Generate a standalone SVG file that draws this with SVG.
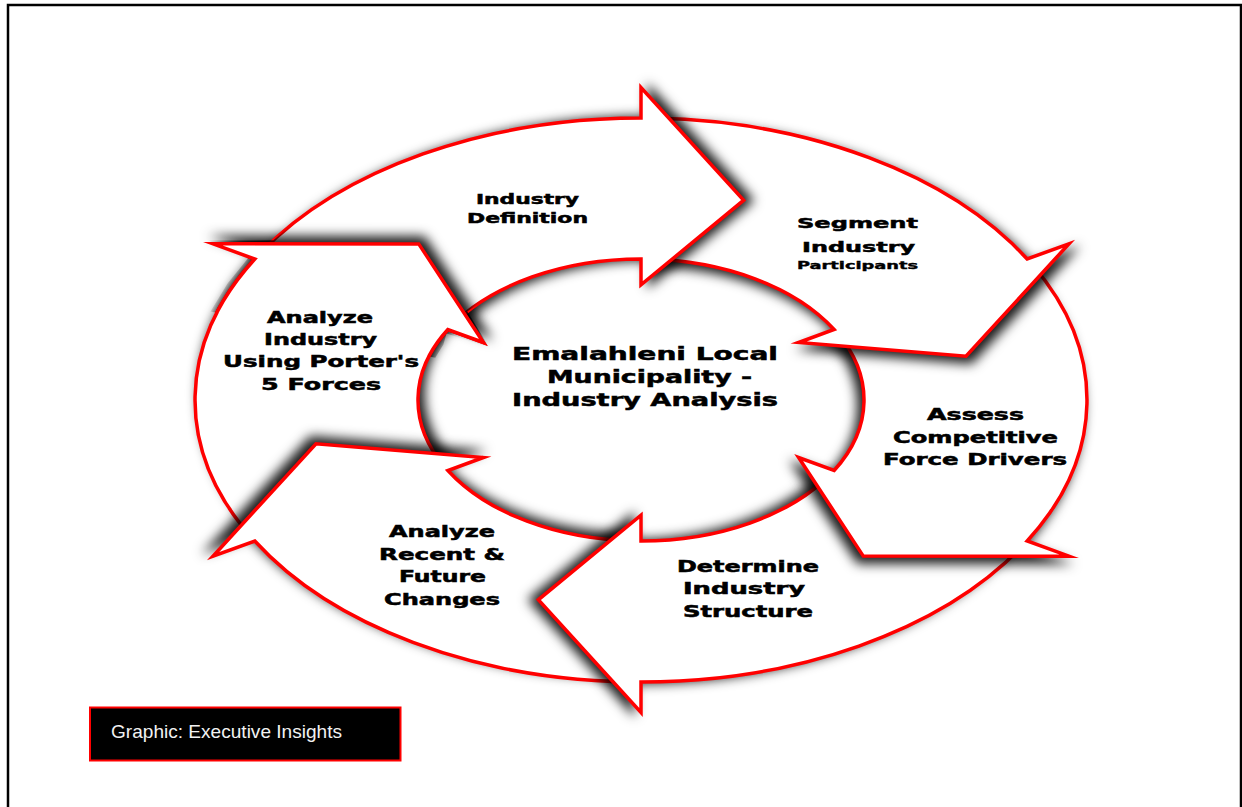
<svg xmlns="http://www.w3.org/2000/svg" xmlns:xlink="http://www.w3.org/1999/xlink" width="1242" height="807" viewBox="0 0 1242 807">
<style>
.arw{fill:#fff;stroke:#ff0000;stroke-width:3.5;stroke-linejoin:miter;stroke-miterlimit:10}
.lbl{font-family:"DejaVu Sans","Liberation Sans",sans-serif;font-weight:bold;fill:#000;stroke:#000;stroke-width:0.5}
.src{font-family:"Liberation Sans",Arial,sans-serif;font-size:19px;fill:#f2f2f2}
</style>
<defs>
<filter id="shT" x="-20%" y="-20%" width="140%" height="140%" color-interpolation-filters="sRGB"><feGaussianBlur in="SourceAlpha" stdDeviation="6"/><feOffset dx="8" dy="0" result="o"/><feFlood flood-color="#000" flood-opacity="0.9"/><feComposite in2="o" operator="in"/><feMerge><feMergeNode/><feMergeNode in="SourceGraphic"/></feMerge></filter>
<filter id="shS" x="-20%" y="-20%" width="140%" height="140%" color-interpolation-filters="sRGB"><feGaussianBlur in="SourceAlpha" stdDeviation="6"/><feOffset dx="5.4" dy="5.9" result="o"/><feFlood flood-color="#000" flood-opacity="0.9"/><feComposite in2="o" operator="in"/><feMerge><feMergeNode/><feMergeNode in="SourceGraphic"/></feMerge></filter>
<filter id="shA" x="-20%" y="-20%" width="140%" height="140%" color-interpolation-filters="sRGB"><feGaussianBlur in="SourceAlpha" stdDeviation="6"/><feOffset dx="-5.4" dy="5.9" result="o"/><feFlood flood-color="#000" flood-opacity="0.9"/><feComposite in2="o" operator="in"/><feMerge><feMergeNode/><feMergeNode in="SourceGraphic"/></feMerge></filter>
<filter id="shD" x="-20%" y="-20%" width="140%" height="140%" color-interpolation-filters="sRGB"><feGaussianBlur in="SourceAlpha" stdDeviation="6"/><feOffset dx="-8" dy="0" result="o"/><feFlood flood-color="#000" flood-opacity="0.9"/><feComposite in2="o" operator="in"/><feMerge><feMergeNode/><feMergeNode in="SourceGraphic"/></feMerge></filter>
<filter id="shR" x="-20%" y="-20%" width="140%" height="140%" color-interpolation-filters="sRGB"><feGaussianBlur in="SourceAlpha" stdDeviation="6"/><feOffset dx="-5.4" dy="-5.9" result="o"/><feFlood flood-color="#000" flood-opacity="0.9"/><feComposite in2="o" operator="in"/><feMerge><feMergeNode/><feMergeNode in="SourceGraphic"/></feMerge></filter>
<filter id="shP" x="-20%" y="-20%" width="140%" height="140%" color-interpolation-filters="sRGB"><feGaussianBlur in="SourceAlpha" stdDeviation="6"/><feOffset dx="5.4" dy="-5.9" result="o"/><feFlood flood-color="#000" flood-opacity="0.9"/><feComposite in2="o" operator="in"/><feMerge><feMergeNode/><feMergeNode in="SourceGraphic"/></feMerge></filter>
<path id="shapeTop" d="M260.7,252.7 A446,282 0 0 1 641,118 L641,87.5 L743.7,200.2 L641,284.9 L641,259 A223,141 0 0 0 450.9,326.3 Z"/>
<path id="shapeSeg" d="M652.7,118.1 A446,282 0 0 1 1027.2,259 L1069,243.8 L966,356.3 L798.6,342.5 L834.1,329.5 A223,141 0 0 0 646.8,259 Z"/>
<path id="shapeAss" d="M1032.9,265.4 A446,282 0 0 1 1027.2,541 L1069,556.2 L863.3,556.1 L798.6,457.5 L834.1,470.5 A223,141 0 0 0 837,332.7 Z"/>
<path id="shapeDet" d="M1021.3,547.3 A446,282 0 0 1 641,682 L641,712.5 L538.3,599.8 L641,515.1 L641,541 A223,141 0 0 0 831.1,473.7 Z"/>
<path id="shapeRec" d="M629.3,681.9 A446,282 0 0 1 254.8,541 L213,556.2 L316,443.7 L483.4,457.5 L447.9,470.5 A223,141 0 0 0 635.2,541 Z"/>
<path id="shapePor" d="M249.1,534.6 A446,282 0 0 1 254.8,259 L213,243.8 L418.7,243.9 L483.4,342.5 L447.9,329.5 A223,141 0 0 0 445,467.3 Z"/>
<clipPath id="clipPorHead">
<polygon points="210.5,311.6 227.5,283.6 249,256.9 208,240.5 423.5,240 489,347 446.5,333.5 443.4,344.4 435.3,357.7"/>
<use xlink:href="#shapeTop"/>
</clipPath>
</defs>
<rect x="0" y="0" width="1242" height="807" fill="#fff"/>
<rect x="8" y="5" width="1233" height="830" fill="none" stroke="#000" stroke-width="2.5"/>

<g id="node-porter">
<use xlink:href="#shapePor" class="arw" filter="url(#shP)"/>
</g>

<g id="node-recent">
<use xlink:href="#shapeRec" class="arw" filter="url(#shR)"/>
<text class="lbl" font-size="15" x="389" y="537" textLength="106" lengthAdjust="spacingAndGlyphs">Analyze</text>
<text class="lbl" font-size="15" x="379" y="560" textLength="126" lengthAdjust="spacingAndGlyphs">Recent &amp;</text>
<text class="lbl" font-size="15" x="399" y="582" textLength="87" lengthAdjust="spacingAndGlyphs">Future</text>
<text class="lbl" font-size="15" x="384" y="605" textLength="116" lengthAdjust="spacingAndGlyphs">Changes</text>
</g>

<g id="node-determine">
<use xlink:href="#shapeDet" class="arw" filter="url(#shD)"/>
<text class="lbl" font-size="15" x="677" y="572" textLength="142" lengthAdjust="spacingAndGlyphs">Determine</text>
<text class="lbl" font-size="15" x="683" y="594" textLength="122" lengthAdjust="spacingAndGlyphs">Industry</text>
<text class="lbl" font-size="15" x="683" y="617" textLength="130" lengthAdjust="spacingAndGlyphs">Structure</text>
</g>

<g id="node-assess">
<use xlink:href="#shapeAss" class="arw" filter="url(#shA)"/>
<text class="lbl" font-size="15" x="927" y="420" textLength="97" lengthAdjust="spacingAndGlyphs">Assess</text>
<text class="lbl" font-size="15" x="893" y="443" textLength="165" lengthAdjust="spacingAndGlyphs">Competitive</text>
<text class="lbl" font-size="15" x="883" y="465" textLength="184" lengthAdjust="spacingAndGlyphs">Force Drivers</text>
</g>

<g id="node-segment">
<use xlink:href="#shapeSeg" class="arw" filter="url(#shS)"/>
<text class="lbl" font-size="14.5" x="797" y="228" textLength="121" lengthAdjust="spacingAndGlyphs">Segment</text>
<text class="lbl" font-size="14.5" x="802" y="252" textLength="113" lengthAdjust="spacingAndGlyphs">Industry</text>
<text class="lbl" font-size="10" x="797" y="269" textLength="121" lengthAdjust="spacingAndGlyphs" style="stroke-width:0.35">Participants</text>
</g>

<g id="node-top">
<use xlink:href="#shapeTop" class="arw" filter="url(#shT)"/>
<text class="lbl" font-size="13.5" x="476" y="204" textLength="103" lengthAdjust="spacingAndGlyphs">Industry</text>
<text class="lbl" font-size="13.5" x="467" y="223" textLength="121" lengthAdjust="spacingAndGlyphs">Definition</text>
</g>

<g id="node-porter-head">
<g clip-path="url(#clipPorHead)">
<use xlink:href="#shapePor" class="arw" filter="url(#shP)"/>
</g>
<text class="lbl" font-size="15" x="267" y="323" textLength="106" lengthAdjust="spacingAndGlyphs">Analyze</text>
<text class="lbl" font-size="15" x="264" y="345" textLength="113" lengthAdjust="spacingAndGlyphs">Industry</text>
<text class="lbl" font-size="15" x="223" y="367" textLength="196" lengthAdjust="spacingAndGlyphs">Using Porter's</text>
<text class="lbl" font-size="15" x="261" y="390" textLength="120" lengthAdjust="spacingAndGlyphs">5 Forces</text>
</g>

<g id="node-center">
<text class="lbl" font-size="17.5" x="512" y="360" textLength="266" lengthAdjust="spacingAndGlyphs">Emalahleni Local</text>
<text class="lbl" font-size="17.5" x="547" y="383" textLength="205" lengthAdjust="spacingAndGlyphs">Municipality -</text>
<text class="lbl" font-size="17.5" x="512" y="406" textLength="266" lengthAdjust="spacingAndGlyphs">Industry Analysis</text>
</g>

<g id="node-source">
<rect x="90" y="707.5" width="310.5" height="53" fill="#000" stroke="#ff0000" stroke-width="2"/>
<text class="src" x="111" y="738" textLength="231" lengthAdjust="spacingAndGlyphs">Graphic: Executive Insights</text>
</g>
</svg>
